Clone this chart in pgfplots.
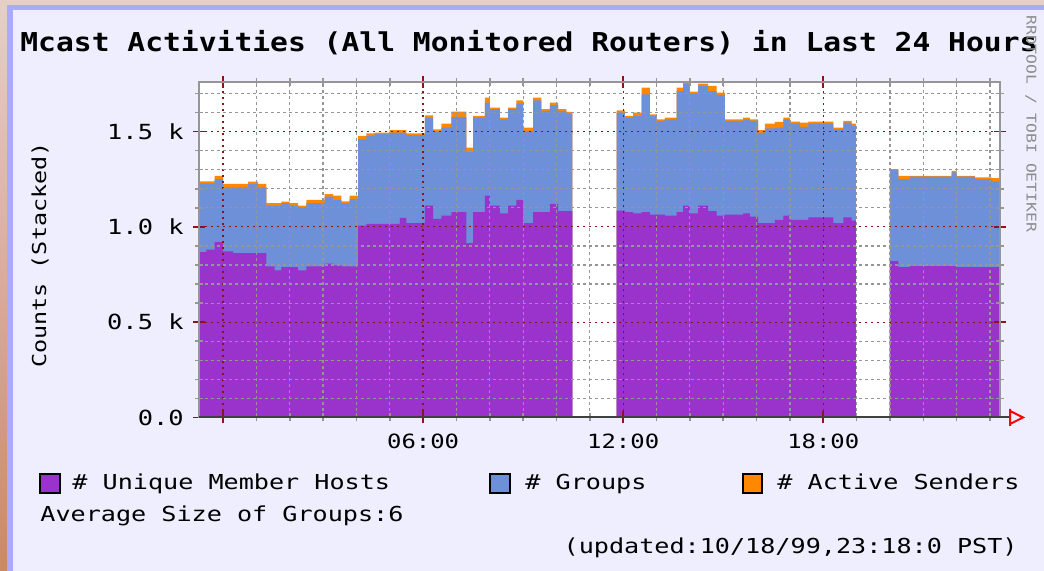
\documentclass[border=0pt]{standalone}
\usepackage{fontspec}
\usepackage{pgfplots}
\pgfplotsset{compat=1.18}
\usepackage{pgfplotstable}
\usetikzlibrary{arrows.meta}
\newfontfamily\pix[FakeStretch=1.22]{DejaVu Sans Mono}
\newfontfamily\titlefont[FakeStretch=1.14]{DejaVu Sans Mono}
\definecolor{bg}{RGB}{238,238,255}
\definecolor{bord}{RGB}{170,170,255}
\definecolor{peach1}{RGB}{230,208,198}
\definecolor{peach2}{RGB}{205,135,105}
\definecolor{hosts}{RGB}{153,51,204}
\definecolor{groups}{RGB}{109,144,217}
\definecolor{senders}{RGB}{255,136,0}
\definecolor{majgrid}{RGB}{140,20,20}
\definecolor{mingrid}{RGB}{150,150,150}
\pgfplotstableread{
x P B O
-0.72 867 1228 1239
-0.50 880 1228 1239
-0.25 920 1251 1268
0.00 871 1207 1225
0.30 862 1207 1225
0.75 862 1225 1237
1.05 862 1207 1225
1.30 793 1111 1124
1.55 772 1111 1124
1.75 789 1124 1132
2.00 789 1111 1124
2.25 772 1103 1111
2.50 793 1124 1141
3.05 807 1159 1172
3.30 798 1141 1164
3.55 793 1124 1134
3.80 793 1146 1164
4.05 1007 1460 1477
4.30 1016 1477 1490
4.55 1016 1486 1495
5.00 1016 1495 1507
5.30 1047 1495 1507
5.50 1019 1481 1490
6.05 1111 1573 1585
6.30 1042 1498 1512
6.55 1059 1521 1542
6.85 1077 1577 1604
7.30 915 1394 1416
7.50 1077 1573 1582
7.85 1164 1652 1678
8.00 1111 1617 1626
8.30 1071 1564 1573
8.55 1111 1617 1626
8.80 1141 1646 1664
9.00 1019 1503 1521
9.30 1077 1664 1678
9.55 1077 1608 1617
9.80 1120 1639 1652
10.05 1082 1608 1617
10.30 1082 1594 1603
10.48 0 0 0
11.80 1085 1599 1611
12.05 1077 1573 1582
12.30 1071 1582 1599
12.55 1077 1695 1730
12.80 1064 1582 1590
13.00 1064 1556 1564
13.25 1059 1564 1573
13.60 1077 1712 1730
13.80 1111 1751 1760
14.00 1071 1699 1709
14.25 1111 1739 1751
14.55 1082 1712 1739
14.80 1059 1692 1704
15.05 1064 1556 1564
15.60 1071 1564 1573
15.80 1054 1556 1564
16.05 1019 1495 1507
16.25 1019 1517 1542
16.55 1037 1521 1551
16.80 1059 1564 1573
17.00 1037 1542 1552
17.30 1037 1524 1547
17.55 1050 1542 1552
18.30 1019 1512 1521
18.60 1050 1547 1556
18.85 1033 1530 1542
18.98 0 0 0
20.00 820 1298 1303
20.25 789 1251 1268
20.60 794 1263 1268
21.85 794 1286 1294
22.00 789 1263 1268
22.55 789 1251 1259
23.05 789 1239 1256
23.30 789 1239 1256
}\data
\begin{document}
\begin{tikzpicture}[x=0.5pt,y=0.5pt]
\fill[bg] (0,0) rectangle (1044,571);
\shade[top color=peach1,bottom color=peach2] (0,0) rectangle (7,571);
\fill[peach1] (0,566) rectangle (1044,571);
\fill[bord] (7,0) rectangle (13,566);
\fill[bord] (7,561) rectangle (1044,566);
\begin{axis}[at={(99.5pt,76.75pt)}, anchor=south west, scale only axis,
  width=400.5pt, height=167.75pt,
  xmin=-0.72, xmax=23.3, ymin=0, ymax=1760,
  axis on top,
  axis background/.style={fill=white},
  axis line style={draw=mingrid, line width=1pt},
  xtick={0,6,12,18}, xticklabels={,06:00,12:00,18:00},
  minor xtick={1,2,3,4,5,7,8,9,10,11,13,14,15,16,17,19,20,21,22,23},
  ytick={0,500,1000,1500}, yticklabels={0.0,0.5 k,1.0 k,1.5 k},
  minor ytick={100,200,300,400,600,700,800,900,1100,1200,1300,1400,1600,1700},
  grid=both,
  major grid style={majgrid, dash pattern=on 1pt off 2pt, line width=0.6pt},
  minor grid style={mingrid, dash pattern=on 1.5pt off 1.5pt, line width=0.6pt},
  tick align=center, major tick length=6pt, minor tick length=4pt,
  major tick style={majgrid, line width=0.8pt},
  minor tick style={mingrid, line width=0.8pt},
  ticklabel style={font=\pix\fontsize{10.4pt}{12pt}\selectfont, text=black},
  xticklabel style={anchor=base, inner sep=0pt, yshift=-12.75pt, font=\pix\fontsize{9.8pt}{12pt}\selectfont},
  yticklabel style={anchor=east, inner sep=0pt, xshift=-4.5pt},
]
\addplot[fill=senders, draw=none, const plot] table[x=x,y=O]{\data} \closedcycle;
\addplot[fill=groups, draw=none, const plot] table[x=x,y=B]{\data} \closedcycle;
\addplot[fill=hosts, draw=none, const plot] table[x=x,y=P]{\data} \closedcycle;
\end{axis}
\draw[black!75, line width=1pt] (199,153.5) -- (1010,153.5);
\draw[red, line width=1pt] (1010,145) -- (1010,162) (1010,160) -- (1023,153.5) -- (1010,147);
\node[anchor=base west, inner sep=0pt, font=\titlefont\bfseries\fontsize{13pt}{15pt}\selectfont] at (20,519.5) {Mcast Activities (All Monitored Routers) in Last 24 Hours};
\node[rotate=-90, anchor=west, inner sep=0pt, text=black!45, font=\pix\fontsize{6.7pt}{8pt}\selectfont] at (1031,556) {RRDTOOL / TOBI OETIKER};
\node[rotate=90, inner sep=0pt, font=\pix\fontsize{9.6pt}{12pt}\selectfont] at (40,316) {Counts (Stacked)};
\begin{scope}[every node/.style={anchor=base west, inner sep=0pt, font=\pix\fontsize{10.3pt}{12pt}\selectfont}]
\filldraw[fill=hosts, draw=black, line width=1pt] (40,78) rectangle (60,97);
\node at (72,81) {\# Unique Member Hosts};
\filldraw[fill=groups, draw=black, line width=1pt] (490,78) rectangle (510,97);
\node at (525,81) {\# Groups};
\filldraw[fill=senders, draw=black, line width=1pt] (743,78) rectangle (762,97);
\node at (777,81) {\# Active Senders};
\node at (40,49.5) {Average Size of Groups:6};
\node[anchor=base east] at (1018,17.5) {(updated:10/18/99,23:18:0 PST)};
\end{scope}
\pgfresetboundingbox
\path (0,0) rectangle (1044,571);
\end{tikzpicture}
\end{document}
